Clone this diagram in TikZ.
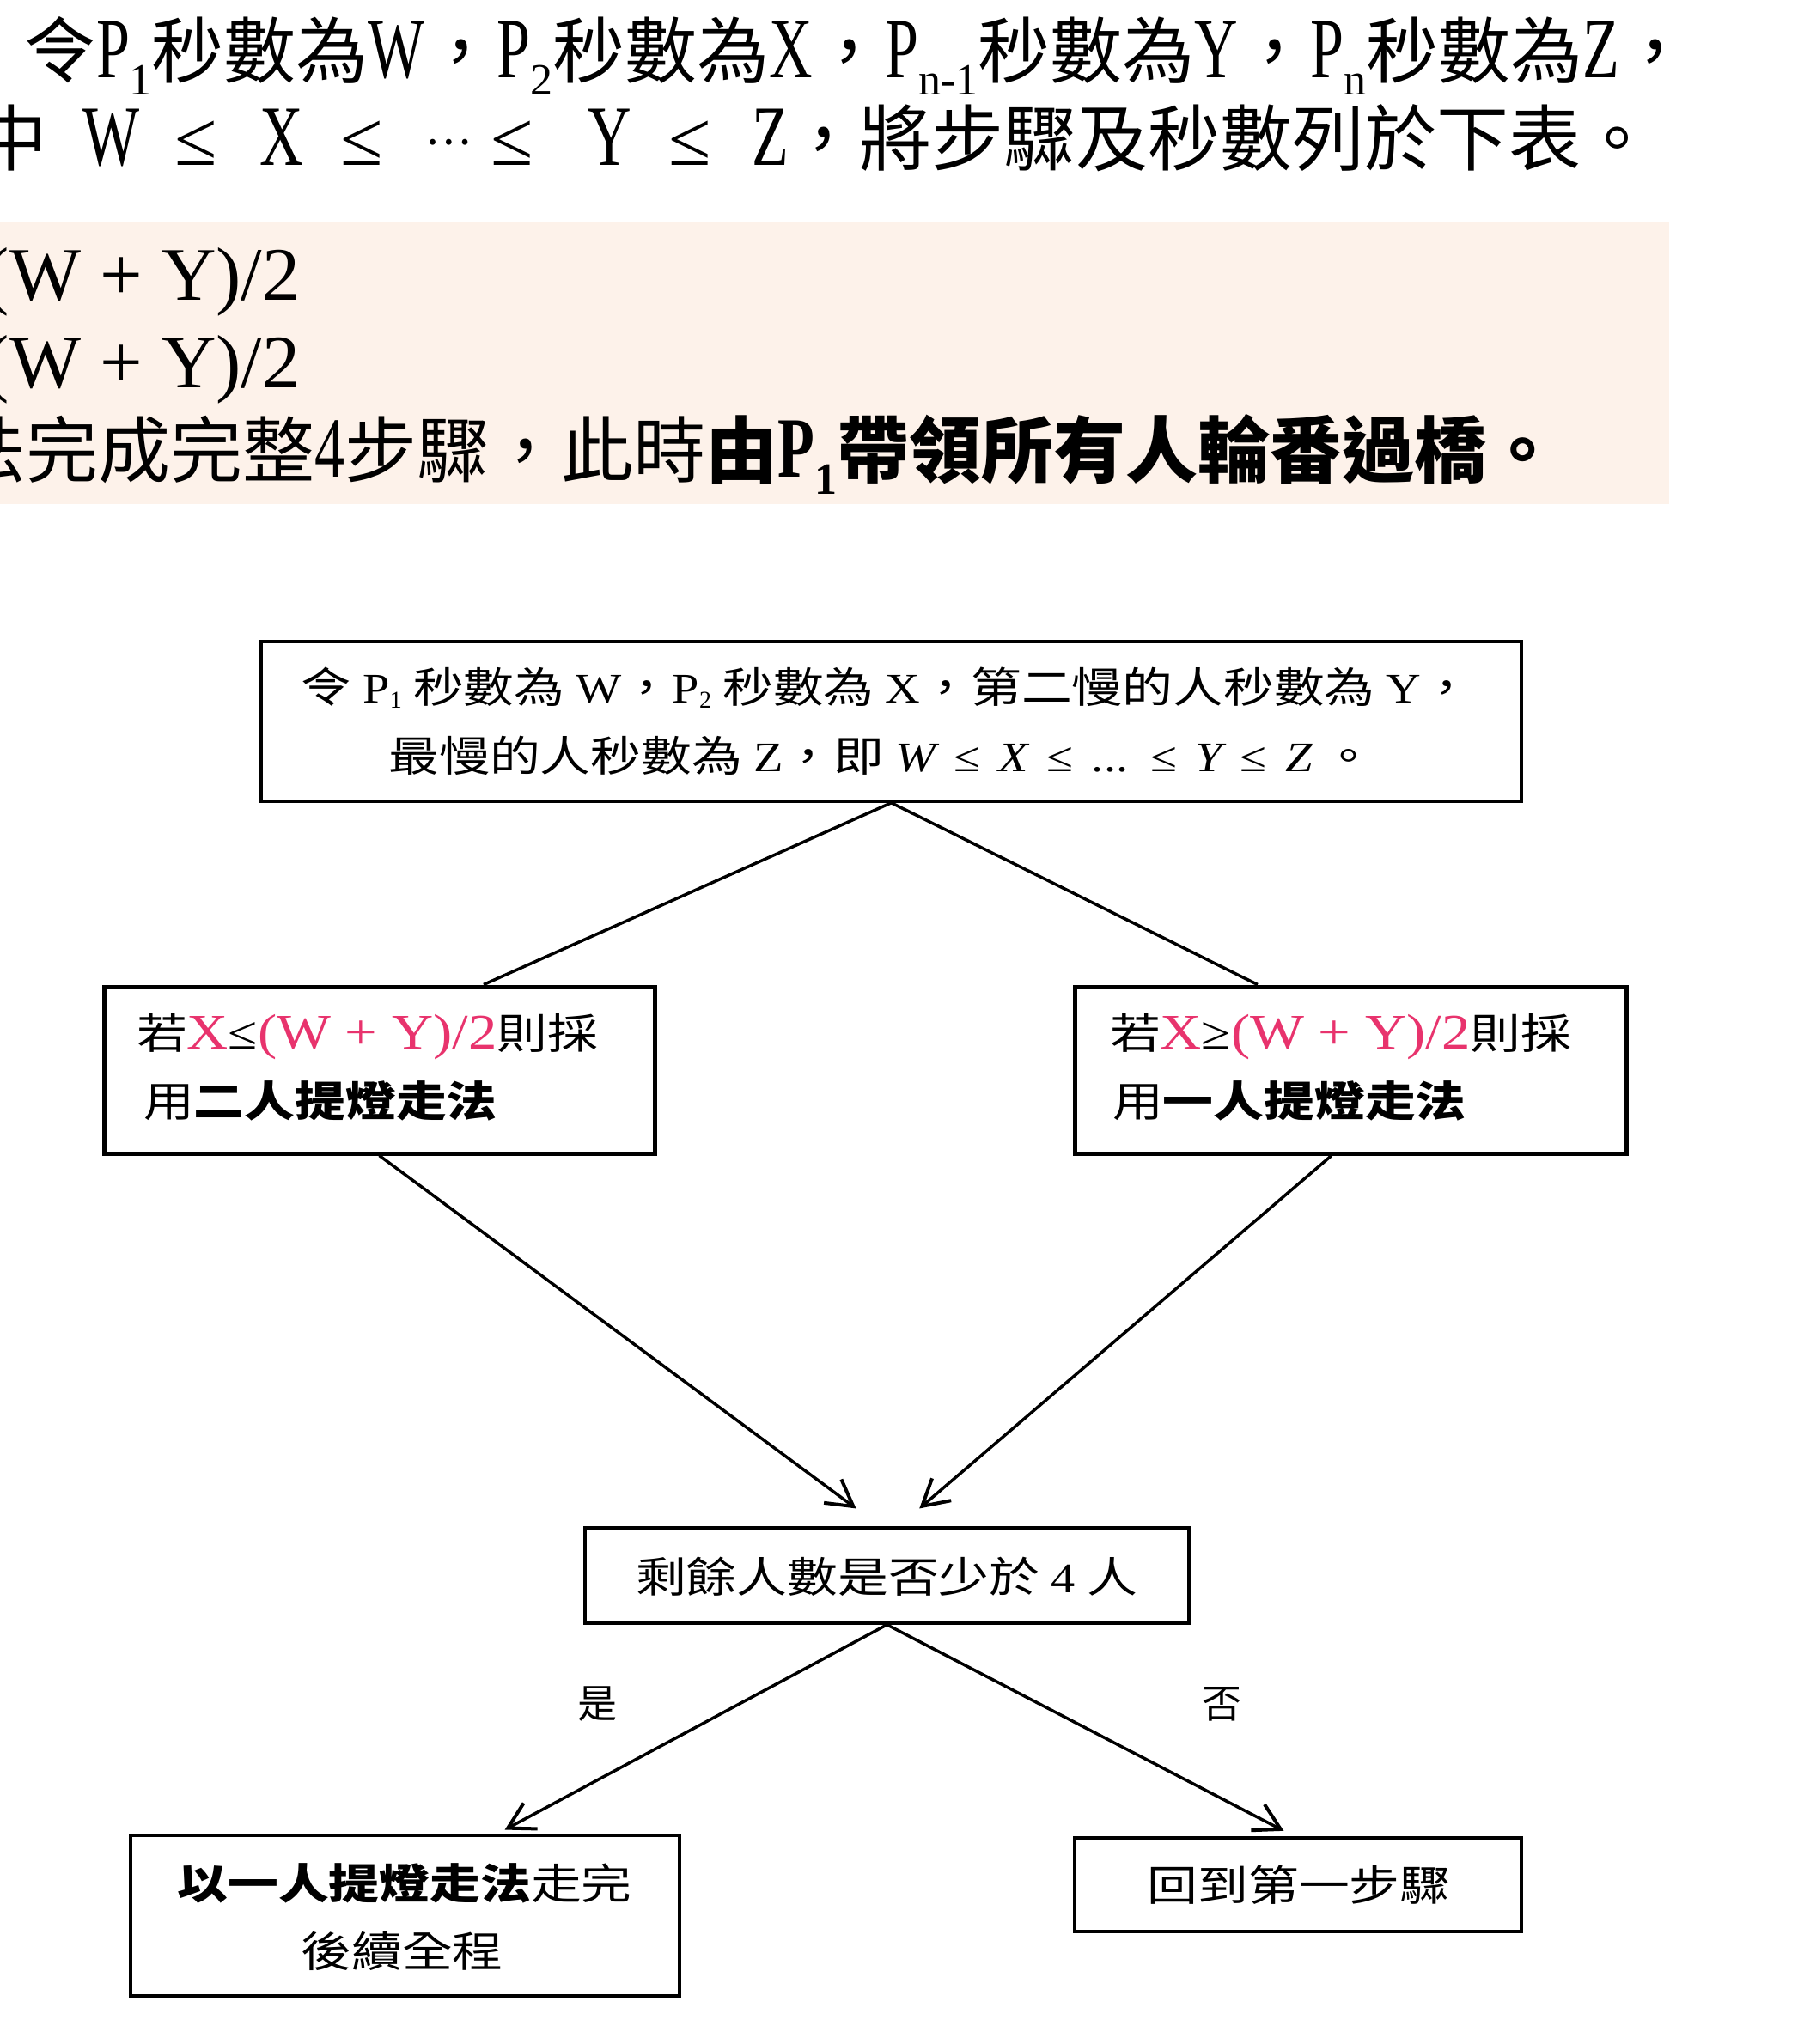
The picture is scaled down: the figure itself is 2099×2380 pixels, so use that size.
\documentclass[tikz,border=0pt]{standalone}
\usepackage{fontspec}
\setmainfont{Liberation Serif}
\newfontfamily\cjk{Noto Sans CJK TC}
\newfontfamily\cjkw[FakeStretch=1.2]{Noto Sans CJK TC}
\newfontfamily\hlat[FakeStretch=0.7]{Liberation Serif}
\newfontfamily\flowlat[FakeStretch=1.15]{Liberation Serif}
\usetikzlibrary{arrows.meta,calc}
\definecolor{shadebg}{HTML}{FDF2EA}
\definecolor{pinkx}{HTML}{E8336D}
\newcommand\fs[1]{\fontsize{#1pt}{#1pt}\selectfont}
\newcommand\HL[1]{{\fs{100}\hlat #1}}
\newcommand\HS[1]{\raisebox{-20pt}{\fs{52}\rmfamily #1}}
\newcommand\FC{\fs{49}\cjkw}
\newcommand\FL[1]{{\fs{49}\flowlat #1}}
\newcommand\FS[1]{\raisebox{-6pt}{\fs{28}\rmfamily #1}}
\newcommand\PK[1]{{\color{pinkx}\fs{58}\flowlat #1}}
\tikzset{
  tx/.style={inner sep=0pt, outer sep=0pt},
  flowbox/.style={draw, rectangle, inner sep=0pt, line width=#1},
  link/.style={line width=3.5pt},
  arr/.style={line width=3.5pt, -{Straight Barb[length=30pt,width=34pt,line width=4pt]}},
}
\begin{document}
\begin{tikzpicture}[x=1pt,y=-1pt]
\useasboundingbox (0,0) rectangle (2099,2380);
\fill[white] (0,0) rectangle (2099,2380);

% ---------- header text ----------
\node[tx,anchor=base west] (h1) at (28,90) {\fs{84}\cjk 令\HL{P}\HS{1}秒數為\HL{W}，\HL{P}\HS{2}秒數為\HL{X}，\HL{P}\HS{n-1}秒數為\HL{Y}，\HL{P}\HS{n}秒數為\HL{Z}，};

\node[tx,anchor=base] (h2a) at (14,192) {\fs{84}\cjk 中};
\node[tx,anchor=base] (h2b) at (130,192) {\HL{W}};
\node[tx,anchor=base] (h2c) at (228,192) {\fs{90}≤};
\node[tx,anchor=base] (h2d) at (328,192) {\HL{X}};
\node[tx,anchor=base] (h2e) at (421,192) {\fs{90}≤};
\node[tx,anchor=base] (h2f) at (522,192) {\raisebox{24pt}{\fs{50}\cjk …}};
\node[tx,anchor=base] (h2g) at (596,192) {\fs{90}≤};
\node[tx,anchor=base] (h2h) at (710,192) {\HL{Y}};
\node[tx,anchor=base] (h2i) at (803,192) {\fs{90}≤};
\node[tx,anchor=base] (h2j) at (897,192) {\HL{Z}};
\node[tx,anchor=base west] (h2k) at (916,192) {\fs{84}\cjk ，將步驟及秒數列於下表。};

% ---------- shaded block ----------
\fill[shadebg] (0,258) rectangle (1943,587);
\node[tx,anchor=base west] (s1) at (-18,349) {\fs{88}(W + Y)/2};
\node[tx,anchor=base west] (s2) at (-18,451) {\fs{88}(W + Y)/2};
\node[tx,anchor=base west] (s3) at (-53,555) {\fs{84}\cjk 法完成完整\HL{4}步驟，此時{\bfseries 由\HL{P}\HS{1}帶領所有人輪番過橋。}};

% ---------- flowchart boxes ----------
\node[flowbox=3.5pt, minimum width=1467pt, minimum height=186pt] (top) at (1037.5,840) {};
\node[flowbox=5pt, minimum width=641pt, minimum height=194pt] (lb) at (441.5,1246) {};
\node[flowbox=5pt, minimum width=642pt, minimum height=194pt] (rb) at (1572,1246) {};
\node[flowbox=3.5pt, minimum width=703pt, minimum height=111pt] (mid) at (1032.5,1834.5) {};
\node[flowbox=3.5pt, minimum width=639pt, minimum height=187pt] (bl) at (471.5,2230.5) {};
\node[flowbox=3.5pt, minimum width=520pt, minimum height=109pt] (br) at (1511,2194.5) {};

% ---------- flowchart texts ----------
\node[tx] (t1) at (1032,801) {\FC 令 \FL{P\FS{1}} 秒數為 \FL{W}，\FL{P\FS{2}} 秒數為 \FL{X}，第二慢的人秒數為 \FL{Y}，};
\node[tx] (t2) at (1026,880) {\FC 最慢的人秒數為 \FL{Z}，即 \FL{\itshape W}\, \FL{≤}\, \FL{\itshape X}\, \FL{≤}\, \FL{...}\, \FL{≤}\, \FL{\itshape Y}\, \FL{≤}\, \FL{\itshape Z} 。};

\node[tx,anchor=west] (l1) at (159,1207) {\FC 若\PK{X}{\fs{54}\flowlat ≤}\PK{(W + Y)/2}則採};
\node[tx,anchor=west] (l2) at (167,1282) {\FC 用{\bfseries 二人提燈走法}};
\node[tx,anchor=west] (r1) at (1292,1207) {\FC 若\PK{X}{\fs{54}\flowlat ≥}\PK{(W + Y)/2}則採};
\node[tx,anchor=west] (r2) at (1295,1282) {\FC 用{\bfseries 一人提燈走法}};

\node[tx] (m1) at (1032,1836) {\FC 剩餘人數是否少於 \FL{4} 人};
\node[tx] (yes) at (695,1984) {\fs{46}\cjk 是};
\node[tx] (no) at (1422,1984) {\fs{46}\cjk 否};

\node[tx] (b1) at (471,2193) {\FC{\bfseries 以一人提燈走法}走完};
\node[tx] (b2) at (468,2272) {\FC 後續全程};
\node[tx] (c1) at (1512,2195) {\FC 回到第一步驟};

% ---------- connectors ----------
\draw[link] (top.south) -- ($(lb.north west)!0.688!(lb.north east)$);
\draw[link] (top.south) -- ($(rb.north west)!0.333!(rb.north east)$);
\draw[arr, shorten >=35pt] (lb.south) -- ($(mid.north west)!0.489!(mid.north east)$);
\draw[arr, shorten >=32pt] ($(rb.south west)!0.466!(rb.south east)$) -- ($(mid.north west)!0.519!(mid.north east)$);
\draw[arr, shorten >=10pt] (mid.south) -- ($(bl.north west)!0.667!(bl.north east)$);
\draw[arr, shorten >=14pt] (mid.south) -- ($(br.north west)!0.492!(br.north east)$);
\end{tikzpicture}
\end{document}
